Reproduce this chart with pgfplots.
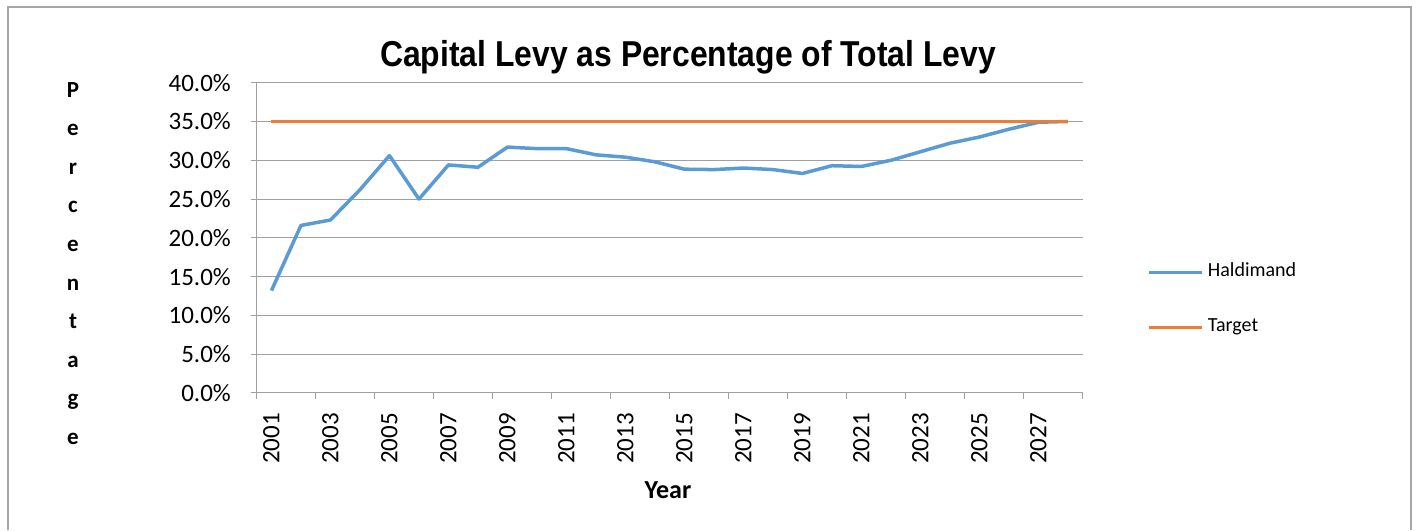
\documentclass[border=0pt]{standalone}
\usepackage{pgfplots}
\pgfplotsset{compat=1.18}
\usepackage{fontspec}
\setmainfont{Carlito}
\newfontfamily\titlefont{Liberation Sans}
\definecolor{hblue}{HTML}{5B9BD5}
\definecolor{torange}{HTML}{ED7D31}
\definecolor{gridgray}{HTML}{A0A0A0}
\definecolor{framegray}{HTML}{A6A6A6}
\begin{document}
\begin{tikzpicture}
\useasboundingbox (0pt,0pt) rectangle (1416pt,530pt);
\draw[framegray, line width=1.5pt] (8pt,0pt) -- (8pt,523pt) -- (1411pt,523pt) -- (1411pt,0pt);
\node[anchor=base, inner sep=0pt, font=\fontsize{36}{40}\selectfont\titlefont\bfseries] at (688pt,463pt) {\scalebox{0.885}[1]{Capital Levy as Percentage of Total Levy}};
\node[anchor=north, inner sep=0pt, align=center, font=\fontsize{23}{38.6}\selectfont\bfseries] at (73pt,448pt) {P\\e\\r\\c\\e\\n\\t\\a\\g\\e};
\node[anchor=base, inner sep=0pt, font=\fontsize{26}{28}\selectfont\bfseries] at (668pt,31pt) {Year};
\begin{axis}[
  at={(256.7pt,137pt)}, anchor=south west,
  scale only axis, width=826pt, height=310.3pt,
  xmin=-0.5, xmax=27.5, ymin=0, ymax=40,
  axis x line*=bottom, axis y line*=left,
  axis line style={gridgray, line width=1pt},
  tick align=outside, major tick length=6pt,
  xtick={-0.5,1.5,...,27.5}, xticklabels={},
  x tick style={gridgray, line width=1pt},
  extra x ticks={0,2,...,26},
  extra x tick labels={2001,2003,2005,2007,2009,2011,2013,2015,2017,2019,2021,2023,2025,2027},
  extra x tick style={major tick length=0pt, tick style={draw=none}, grid=none},
  xticklabel style={yshift=-20pt, rotate=90, anchor=east, inner sep=0pt, font=\fontsize{25}{27}\selectfont},
  ytick={0,5,...,40},
  yticklabels={0.0\%,5.0\%,10.0\%,15.0\%,20.0\%,25.0\%,30.0\%,35.0\%,40.0\%},
  y tick style={gridgray, line width=1pt},
  yticklabel style={anchor=east, inner sep=0pt, xshift=-19.7pt, font=\fontsize{25}{27}\selectfont},
  ymajorgrids, grid style={gridgray, line width=1pt},
  legend style={draw=none, fill=none, inner sep=0pt, at={(1.0775,0.3)}, anchor=west,
    row sep=38pt, column sep=4.5pt, font=\fontsize{20}{22}\selectfont,
    nodes={inner sep=0pt, text height=13pt, text depth=4pt}},
  legend cell align=left,
  legend image code/.code={\draw[#1] (0pt,0pt) -- (53pt,0pt);},
]
\addplot[hblue, line width=3.5pt, line join=round] coordinates {
(0,13.2) (1,21.6) (2,22.3) (3,26.2) (4,30.6) (5,25.0) (6,29.4) (7,29.1)
(8,31.7) (9,31.5) (10,31.5) (11,30.7) (12,30.4) (13,29.8) (14,28.85) (15,28.8)
(16,29.0) (17,28.8) (18,28.3) (19,29.3) (20,29.2) (21,30.0) (22,31.1) (23,32.2)
(24,33.0) (25,34.0) (26,34.9) (27,35.0)};
\addlegendentry{Haldimand}
\addplot[torange, line width=3.5pt] coordinates {
(0,35) (1,35) (2,35) (3,35) (4,35) (5,35) (6,35) (7,35) (8,35) (9,35) (10,35) (11,35) (12,35) (13,35)
(14,35) (15,35) (16,35) (17,35) (18,35) (19,35) (20,35) (21,35) (22,35) (23,35) (24,35) (25,35) (26,35) (27,35)};
\addlegendentry{Target}
\end{axis}
\end{tikzpicture}
\end{document}
